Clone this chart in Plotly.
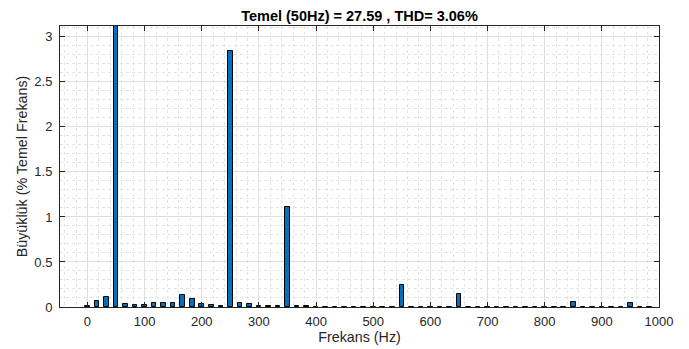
import plotly.graph_objects as go

# harmonic index k -> frequency k*50/3 Hz
bin_index = list(range(0, 60))
magnitude = [
    0.015, 0.07, 0.11, 100.0, 0.03, 0.02, 0.025, 0.04, 0.05, 0.05,
    0.13, 0.085, 0.033, 0.018, 0.015, 2.84, 0.04, 0.033, 0.015, 0.01,
    0.008, 1.11, 0.006, 0.006, 0.005, 0.005, 0.005, 0.005, 0.005, 0.005,
    0.005, 0.005, 0.005, 0.24, 0.005, 0.005, 0.005, 0.005, 0.005, 0.145,
    0.005, 0.005, 0.005, 0.005, 0.005, 0.005, 0.005, 0.005, 0.005, 0.005,
    0.005, 0.06, 0.005, 0.005, 0.005, 0.005, 0.005, 0.045, 0.005, 0.005,
]
freq_step = 50.0 / 3.0
frequencies = [k * freq_step for k in bin_index]

title_text = "Temel (50Hz) = 27.59 , THD= 3.06%"
x_label = "Frekans (Hz)"
y_label = "Büyüklük (% Temel Frekans)"
x_ticks = [0, 100, 200, 300, 400, 500, 600, 700, 800, 900, 1000]
y_ticks = [0, 0.5, 1, 1.5, 2, 2.5, 3]
y_tick_text = ["0", "0.5", "1", "1.5", "2", "2.5", "3"]

FONT = "Liberation Sans, Arial"

fig = go.Figure(go.Bar(
    x=frequencies, y=magnitude, width=8,
    marker=dict(color="#0072BD", line=dict(color="#000000", width=1)),
))

axis_common = dict(
    showline=True, linecolor="#262626", linewidth=1, mirror="ticks",
    ticks="inside", ticklen=5, tickcolor="#262626",
    showgrid=True, gridcolor="#dfdfdf", gridwidth=1, zeroline=False,
    tickfont=dict(family=FONT, size=13, color="#262626"),
    automargin=False,
)

fig.update_layout(
    width=689, height=349,
    margin=dict(l=60, r=30, t=26, b=42),
    paper_bgcolor="white", plot_bgcolor="white",
    showlegend=False,
    title=dict(text="<b>" + title_text + "</b>", x=0.5, xref="paper", xanchor="center",
               y=1 - 16 / 349, yref="container", yanchor="middle",
               font=dict(family=FONT, size=14.5, color="#000000")),
    bargap=0,
)
fig.update_xaxes(
    range=[-48, 1000], tickvals=x_ticks, ticklabelstandoff=2,
    title=dict(text=x_label, standoff=2,
               font=dict(family=FONT, size=14.3, color="#262626")),
    minor=dict(dtick=20, showgrid=True, gridcolor="#e3e3e3", griddash="dot", ticks=""),
    **axis_common,
)
fig.update_yaxes(
    range=[0, 3.12], tickvals=y_ticks, ticktext=y_tick_text, ticklabelstandoff=4,
    title=dict(text=y_label, standoff=3,
               font=dict(family=FONT, size=14.3, color="#262626")),
    minor=dict(dtick=0.1, showgrid=True, gridcolor="#e3e3e3", griddash="dot", ticks=""),
    **axis_common,
)

fig.write_html("out.html")
